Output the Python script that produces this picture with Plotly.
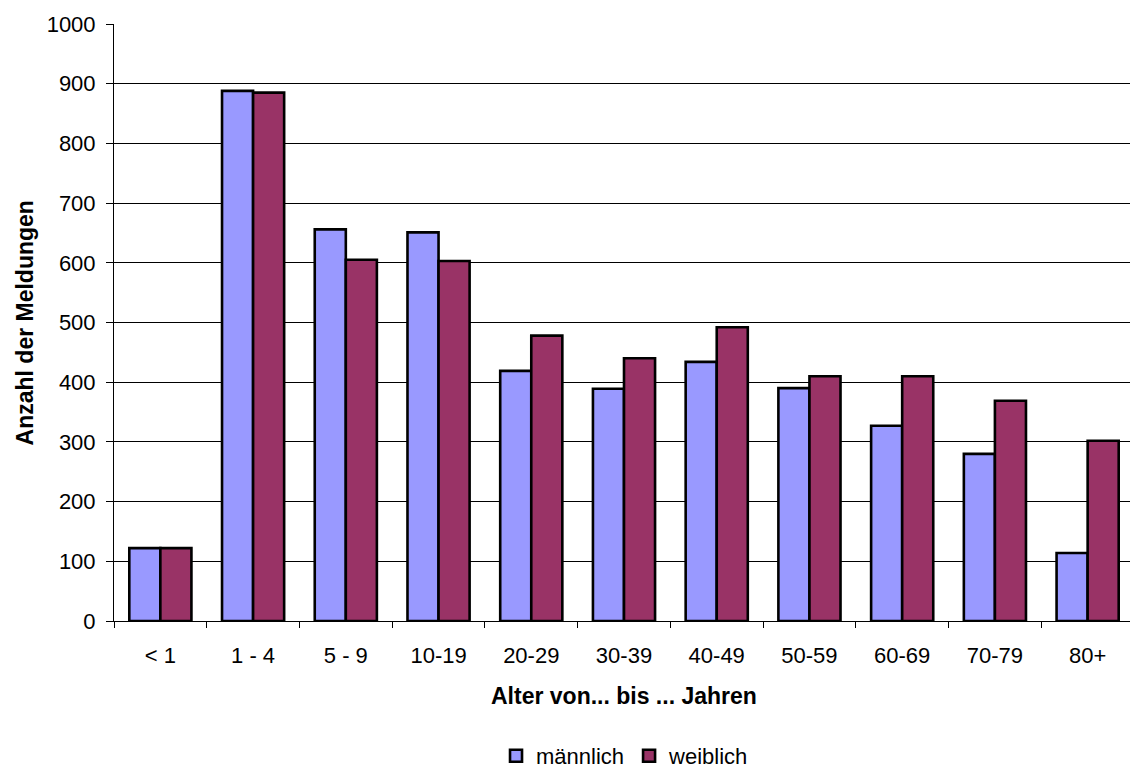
import plotly.graph_objects as go

categories = ["< 1", "1 - 4", "5 - 9", "10-19", "20-29", "30-39", "40-49", "50-59", "60-69", "70-79", "80+"]
maennlich = [122, 888, 656, 651, 419, 389, 434, 390, 327, 280, 114]
weiblich = [122, 885, 605, 603, 478, 440, 492, 410, 410, 369, 302]
y_ticks = [0, 100, 200, 300, 400, 500, 600, 700, 800, 900, 1000]

FONT = "Liberation Sans, Arial, sans-serif"

fig = go.Figure()
fig.add_trace(go.Bar(
    x=categories, y=maennlich, name="männlich",
    marker=dict(color="#9999FF", line=dict(color="black", width=2.6)),
))
fig.add_trace(go.Bar(
    x=categories, y=weiblich, name="weiblich",
    marker=dict(color="#993366", line=dict(color="black", width=2.6)),
))

# page body has an ~8px margin; compensate so the plot lands where the reference has it
fig.update_layout(
    width=1130, height=759,
    margin=dict(l=106, r=4, t=16, b=146, autoexpand=False),
    paper_bgcolor="white", plot_bgcolor="white",
    barmode="group", bargap=0.33, bargroupgap=0,
    font=dict(family=FONT, size=22, color="black"),
    showlegend=True,
    legend=dict(
        orientation="h", xref="paper", yref="paper",
        x=0.501, xanchor="center", y=-0.226, yanchor="middle",
        font=dict(size=22), itemwidth=30, traceorder="normal",
        bgcolor="rgba(0,0,0,0)",
    ),
    xaxis=dict(
        type="category", tickson="boundaries", ticks="outside", ticklen=6,
        tickcolor="black", showline=True, linecolor="black", linewidth=1,
        showgrid=False, automargin=False, ticklabelstandoff=15,
    ),
    yaxis=dict(
        range=[0, 1000], tickvals=y_ticks, ticks="outside", ticklen=7,
        tickcolor="black", showline=True, linecolor="black", linewidth=1,
        showgrid=True, gridcolor="black", gridwidth=1, zeroline=False,
        automargin=False, ticklabelstandoff=6,
    ),
    annotations=[
        dict(text="<b>Alter von... bis ... Jahren</b>", xref="paper", yref="paper",
             x=0.5, y=-0.1256, xanchor="center", yanchor="middle", showarrow=False,
             font=dict(size=23)),
        dict(text="<b>Anzahl der Meldungen</b>", xref="paper", yref="paper",
             x=-0.0873, y=0.5, xanchor="center", yanchor="middle", showarrow=False,
             textangle=-90, font=dict(size=23)),
    ],
    shapes=[dict(type="line", xref="x domain", yref="y domain", x0=1, x1=1, y0=0, y1=1,
                 line=dict(color="#808080", width=1.5))],
)

fig.write_html("out.html")
